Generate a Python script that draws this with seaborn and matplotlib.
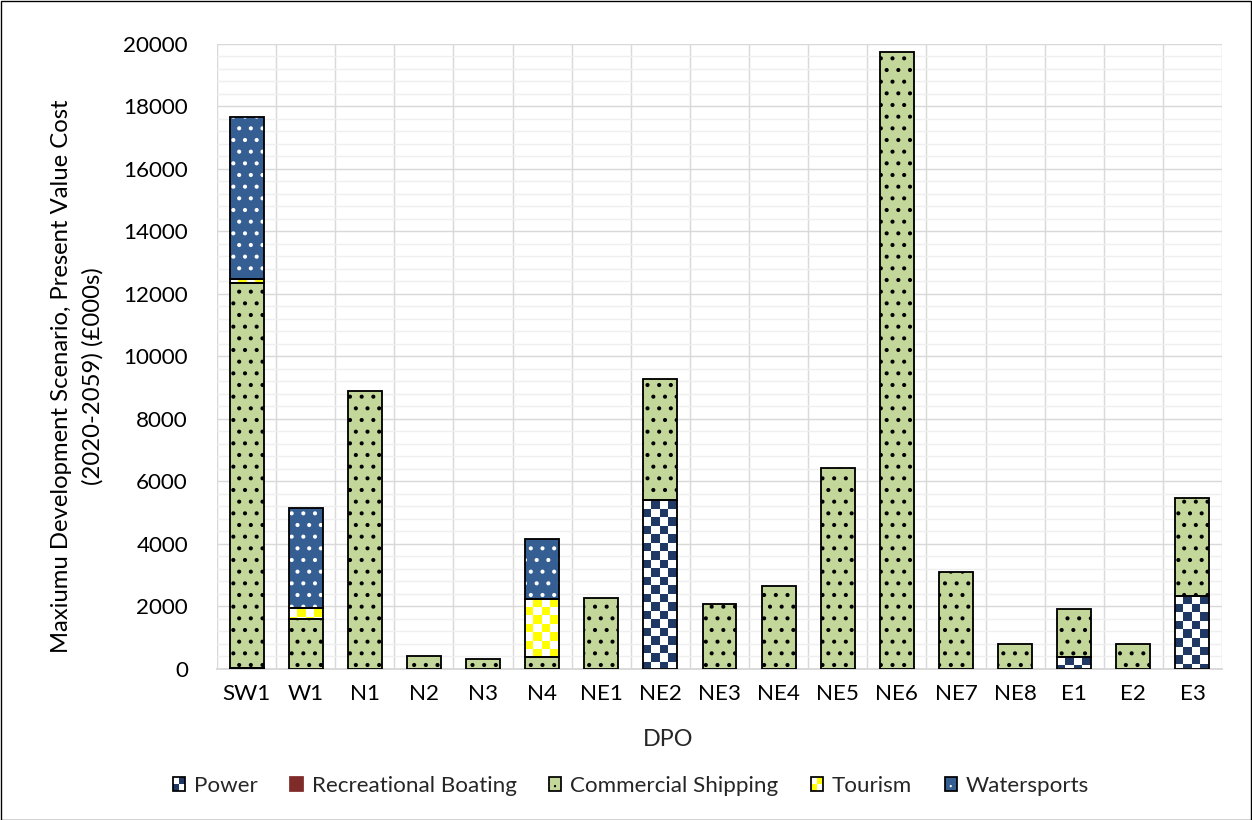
import math
import numpy as np
import matplotlib
matplotlib.use("Agg")
import matplotlib.pyplot as plt
from matplotlib.patches import Rectangle, Ellipse
from matplotlib.legend_handler import HandlerBase
import seaborn as sns

# ---- data -------------------------------------------------------------
categories = ["SW1", "W1", "N1", "N2", "N3", "N4", "NE1", "NE2", "NE3",
              "NE4", "NE5", "NE6", "NE7", "NE8", "E1", "E2", "E3"]
power = [0, 0, 0, 0, 0, 0, 0, 5390, 0, 0, 0, 0, 0, 0, 390, 0, 2340]
recreational_boating = [20, 0, 0, 0, 0, 0, 0, 0, 0, 0, 0, 0, 0, 0, 0, 0, 0]
commercial_shipping = [12310, 1580, 8900, 420, 320, 360, 2270, 3880, 2060,
                       2650, 6430, 19730, 3090, 790, 1520, 790, 3110]
tourism = [130, 350, 0, 0, 0, 1870, 0, 0, 0, 0, 0, 0, 0, 0, 0, 0, 0]
watersports = [5200, 3220, 0, 0, 0, 1920, 0, 0, 0, 0, 0, 0, 0, 0, 0, 0, 0]
series_names = ["Power", "Recreational Boating", "Commercial Shipping",
                "Tourism", "Watersports"]
y_ticks = list(range(0, 20001, 2000))
y_title_lines = ["Maxiumu Development Scenario, Present Value Cost",
                 "(2020-2059) (£000s)"]

# ---- style ------------------------------------------------------------
NAVY = "#1F3864"
RED = "#7E2B2A"
GREEN = "#C4D79B"
YELLOW = "#FFFF00"
BLUE = "#355E92"
GRID = "#D9D9D9"
MINOR_GRID = "#EFEFEF"
FS = 11.5

sns.set_style("white")
plt.rcParams["font.family"] = ["Lato", "DejaVu Sans"]
plt.rcParams["hatch.linewidth"] = 0.9

W_PX, H_PX, DPI = 1252, 820, 140
fig = plt.figure(figsize=(W_PX / DPI, H_PX / DPI), dpi=DPI)
ax_l, ax_r = 217 / W_PX, 1222 / W_PX
ax_b, ax_t = 1 - 668.7 / H_PX, 1 - 43.7 / H_PX
ax = fig.add_axes([ax_l, ax_b, ax_r - ax_l, ax_t - ax_b])

BAR_W = 0.575
values = [power, recreational_boating, commercial_shipping, tourism, watersports]
styles = [
    dict(color="white", edgecolor="white", hatch=None),      # checker added below
    dict(color=RED, edgecolor=RED, hatch=None),
    dict(color=GREEN, edgecolor="black", hatch=".."),
    dict(color="white", edgecolor="white", hatch=None),      # checker added below
    dict(color=BLUE, edgecolor="white", hatch=".."),
]

bottom = np.zeros(len(categories))
containers = []
for vals, st in zip(values, styles):
    n_before = len(ax.containers)
    sns.barplot(x=categories, y=vals, order=categories, ax=ax,
                color=st["color"], saturation=1, errorbar=None,
                width=BAR_W, bottom=bottom.copy(), linewidth=0,
                edgecolor=st["edgecolor"], hatch=st["hatch"], zorder=2)
    containers.append(ax.containers[n_before])
    bottom = bottom + np.asarray(vals, dtype=float)

ax.set_xlim(-0.5, len(categories) - 0.5)
ax.set_ylim(0, 20000)

# checkerboard fill for Power and Tourism segments
x_px_per_unit = (ax_r - ax_l) * W_PX / len(categories)
y_px_per_unit = (ax_t - ax_b) * H_PX / 20000
CELL_PX = 8.5
cell_x = CELL_PX / x_px_per_unit
cell_y = CELL_PX / y_px_per_unit
for idx, col in [(0, NAVY), (3, YELLOW)]:
    rgb_on = np.array(matplotlib.colors.to_rgb(col))
    rgb_off = np.array([1.0, 1.0, 1.0])
    for p in containers[idx].patches:
        h = p.get_height()
        if h <= 0:
            continue
        x0, y0, w = p.get_x(), p.get_y(), p.get_width()
        nx = math.ceil(w / cell_x)
        ny = math.ceil(h / cell_y)
        ii, jj = np.meshgrid(np.arange(nx), np.arange(ny))
        mask = ((ii + jj) % 2 == 1)[..., None]
        img = np.where(mask, rgb_on, rgb_off)
        im = ax.imshow(img, extent=(x0, x0 + nx * cell_x, y0 + h - ny * cell_y, y0 + h),
                       origin="upper", aspect="auto", interpolation="nearest", zorder=2.5)
        im.set_clip_path(p)

ax.set_xlim(-0.5, len(categories) - 0.5)
ax.set_ylim(0, 20000)

# black outline around every non-empty segment
for c in containers:
    for p in c.patches:
        if p.get_height() > 0:
            ax.add_patch(Rectangle((p.get_x(), p.get_y()), p.get_width(), p.get_height(),
                                   fill=False, edgecolor="black", linewidth=0.95, zorder=3))

# ---- axes & grid ------------------------------------------------------
ax.set_yticks(y_ticks)
ax.set_yticks(np.arange(0, 20001, 400), minor=True)
ax.set_xticks(np.arange(-0.5, len(categories), 1), minor=True)
ax.yaxis.grid(True, which="major", color=GRID, linewidth=0.75, zorder=0)
ax.yaxis.grid(True, which="minor", color=MINOR_GRID, linewidth=0.75, zorder=0)
ax.xaxis.grid(True, which="minor", color=GRID, linewidth=0.75, zorder=0)
ax.xaxis.grid(False, which="major")
ax.set_axisbelow(True)
for s in ["left", "top", "right"]:
    ax.spines[s].set_visible(False)
ax.spines["bottom"].set_color(GRID)
ax.spines["bottom"].set_linewidth(1.0)
ax.tick_params(axis="both", which="both", length=0, labelsize=FS, colors="black")
ax.tick_params(axis="y", pad=15)
ax.tick_params(axis="x", pad=8)
ax.set_yticklabels([str(v) for v in y_ticks])

# two-line value-axis title, each line centred on its own column
ax_w_px = (ax_r - ax_l) * W_PX
ax_h_px = (ax_t - ax_b) * H_PX
for line, xc in zip(y_title_lines, [62, 93]):
    ax.text((xc - 217) / ax_w_px, (668.7 - 376) / ax_h_px, line, transform=ax.transAxes,
            rotation=90, ha="center", va="center", fontsize=FS + 0.8, color="black")

ax.set_xlabel("DPO", fontsize=FS + 0.5)
ax.xaxis.label.set_va("center")
ax.xaxis.set_label_coords((668 - 217) / ax_w_px, (668.7 - 740) / ax_h_px)


# ---- legend -----------------------------------------------------------
class Swatch:
    def __init__(self, face, edge="black", dot=None, checker=None):
        self.face, self.edge, self.dot, self.checker = face, edge, dot, checker


class SwatchHandler(HandlerBase):
    def create_artists(self, legend, h, xdescent, ydescent, width, height, fontsize, trans):
        x0, y0 = -xdescent, -ydescent
        arts = [Rectangle((x0, y0), width, height, facecolor=h.face,
                          edgecolor="none", transform=trans)]
        if h.checker is not None:
            cw, ch = width / 2, height / 2
            for i in range(2):
                for j in range(2):
                    if (i + j) % 2 == 0:
                        arts.append(Rectangle((x0 + i * cw, y0 + j * ch), cw, ch,
                                              facecolor=h.checker, edgecolor="none",
                                              transform=trans))
        if h.dot is not None:
            arts.append(Ellipse((x0 + width / 2, y0 + height * 0.35), width * 0.18,
                                height * 0.18, facecolor=h.dot, edgecolor="none",
                                transform=trans))
        arts.append(Rectangle((x0, y0), width, height, fill=False, edgecolor=h.edge,
                              linewidth=0.9, transform=trans))
        return arts


handles = [Swatch("white", checker=NAVY), Swatch(RED, edge=RED),
           Swatch(GREEN, dot="black"), Swatch("white", checker=YELLOW),
           Swatch(BLUE, dot="white")]
fig.legend(handles, series_names, handler_map={Swatch: SwatchHandler()},
           loc="center", bbox_to_anchor=(631 / W_PX, 1 - 786 / H_PX), ncol=5,
           frameon=False, fontsize=FS, handlelength=0.55, handleheight=0.55,
           handletextpad=0.4, columnspacing=1.45)

# chart-area border
fig.add_artist(Rectangle((0.5 / W_PX, 0.5 / H_PX), 1 - 1.5 / W_PX, 1 - 1.5 / H_PX,
                         transform=fig.transFigure, fill=False, edgecolor="black",
                         linewidth=0.7))

fig.savefig("out.png", dpi=DPI)
